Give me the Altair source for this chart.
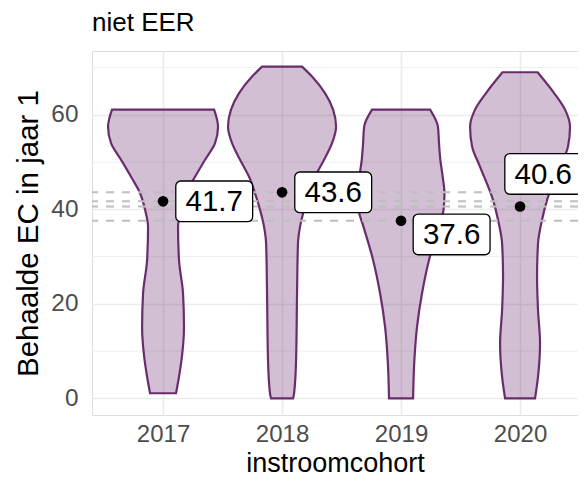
import altair as alt
import pandas as pd

FONT = "Liberation Sans"

cohorts = [2017, 2018, 2019, 2020]
mean_ec = [41.7, 43.6, 37.6, 40.6]
mean_text = ["41.7", "43.6", "37.6", "40.6"]
# label (repelled) positions
label_y = [41.7, 43.6, 34.7, 47.5]
label_dx = [0.43, 0.43, 0.425, 0.195]

minor_breaks = [10, 30, 50, 70]
major_breaks = [0, 20, 40, 60]

# violin outlines: EC value and half-width (in cohort units)
ec_2017 = [1.1, 4.6, 8.1, 15.1, 22.2, 29.3, 36.3, 39.9, 43.4, 46.9, 50.5, 54.0, 57.5, 61.1]
hw_2017 = [0.109, 0.134, 0.155, 0.176, 0.168, 0.134, 0.126, 0.151, 0.193, 0.269, 0.353, 0.437, 0.462, 0.429]

ec_2018 = [0.0, 1.0, 8.1, 22.2, 32.8, 36.3, 39.9, 43.4, 46.9, 50.5, 54.0, 57.5, 61.1, 64.6, 68.1, 70.2]
hw_2018 = [0.092, 0.101, 0.118, 0.126, 0.134, 0.151, 0.185, 0.227, 0.277, 0.353, 0.420, 0.454, 0.429, 0.361, 0.252, 0.168]

ec_2019 = [0.0, 8.1, 15.1, 22.2, 29.3, 36.3, 39.9, 43.4, 46.9, 50.5, 54.0, 57.5, 61.1]
hw_2019 = [0.101, 0.112, 0.134, 0.176, 0.235, 0.315, 0.357, 0.365, 0.350, 0.330, 0.319, 0.310, 0.244]

ec_2020 = [0.0, 4.6, 11.6, 18.7, 25.8, 32.8, 37.8, 42.0, 49.0, 53.3, 57.5, 61.1, 64.6, 69.0]
hw_2020 = [0.126, 0.151, 0.168, 0.151, 0.143, 0.151, 0.185, 0.227, 0.336, 0.403, 0.420, 0.378, 0.286, 0.147]

rows = []
for c, ecs, hws in zip(cohorts, [ec_2017, ec_2018, ec_2019, ec_2020],
                       [hw_2017, hw_2018, hw_2019, hw_2020]):
    for e, h in zip(ecs, hws):
        rows.append({"cohort": c, "ec": e, "hw": h})
violins = pd.DataFrame(rows)

means = pd.DataFrame({"cohort": cohorts, "mean": mean_ec, "text": mean_text,
                      "ly": label_y, "dx": label_dx})
minor = pd.DataFrame({"v": minor_breaks})

x_scale = alt.Scale(domain=[2016.403, 2020.487], nice=False, zero=False)
y_scale = alt.Scale(domain=[-3.5, 73.5], nice=False, zero=False)

x_axis = alt.Axis(values=cohorts, format="d", title="instroomcohort", grid=True,
                  gridColor="#EBEBEB", gridWidth=1.6, domain=False, ticks=False, tickSize=0,
                  labelFontSize=24, labelColor="#4D4D4D", labelPadding=7, labelFont=FONT,
                  titleFontSize=27, titleColor="black", titleFontWeight="normal",
                  titlePadding=4, titleFont=FONT)
y_axis = alt.Axis(values=major_breaks, title="Behaalde EC in jaar 1", grid=True,
                  gridColor="#EBEBEB", gridWidth=1.6, domain=False, ticks=False, tickSize=0,
                  labelFontSize=24.4, labelColor="#4D4D4D", labelPadding=14, labelFont=FONT,
                  titleFontSize=29.5, titleColor="black", titleFontWeight="normal",
                  titlePadding=7, titleFont=FONT)

minor_rules = alt.Chart(minor).mark_rule(color="#EBEBEB", strokeWidth=0.8).encode(
    y=alt.Y("v:Q", scale=y_scale, axis=y_axis)
)

violin = alt.Chart(violins).transform_calculate(
    left="datum.cohort - datum.hw", right="datum.cohort + datum.hw"
).mark_area(orient="horizontal", interpolate="monotone", fill="#6B2C6E", fillOpacity=0.3,
            stroke="#6B2C6E", strokeWidth=2.2).encode(
    y=alt.Y("ec:Q", scale=y_scale, axis=y_axis),
    x=alt.X("left:Q", scale=x_scale, axis=x_axis),
    x2="right:Q",
    detail="cohort:N",
)

hlines = alt.Chart(means).mark_rule(color="#BEBEBE", strokeWidth=2, strokeDash=[8, 8]).encode(
    y=alt.Y("mean:Q", scale=y_scale, axis=y_axis)
)

points = alt.Chart(means).mark_circle(size=113, color="black", opacity=1).encode(
    x=alt.X("cohort:Q", scale=x_scale, axis=x_axis),
    y=alt.Y("mean:Q", scale=y_scale, axis=y_axis),
)

boxes = alt.Chart(means).transform_calculate(
    bx1="datum.cohort + datum.dx - 0.323", bx2="datum.cohort + datum.dx + 0.323",
    by1="datum.ly - 4.3", by2="datum.ly + 4.3"
).mark_rect(fill="white", stroke="black", strokeWidth=1.3, cornerRadius=5).encode(
    x=alt.X("bx1:Q", scale=x_scale, axis=x_axis),
    x2="bx2:Q",
    y=alt.Y("by1:Q", scale=y_scale, axis=y_axis),
    y2="by2:Q",
)

texts = alt.Chart(means).transform_calculate(
    lx="datum.cohort + datum.dx"
).mark_text(fontSize=29.5, font=FONT, color="black", align="center", baseline="middle", dy=1).encode(
    x=alt.X("lx:Q", scale=x_scale, axis=x_axis),
    y=alt.Y("ly:Q", scale=y_scale, axis=y_axis),
    text="text:N",
)

chart = alt.layer(minor_rules, violin, hlines, points, boxes, texts).properties(
    width=486, height=364,
    title=alt.TitleParams("niet EER", anchor="start", frame="group", fontSize=26,
                          fontWeight="normal", font=FONT, color="black",
                          baseline="alphabetic", offset=20, dy=25.5),
    autosize=alt.AutoSizeParams(type="none"),
    padding={"left": 84, "top": 43, "right": 0, "bottom": 62},
).configure_view(stroke=None).configure(font=FONT)

chart.save("out.html", embed_options={"renderer": "svg", "actions": False})
